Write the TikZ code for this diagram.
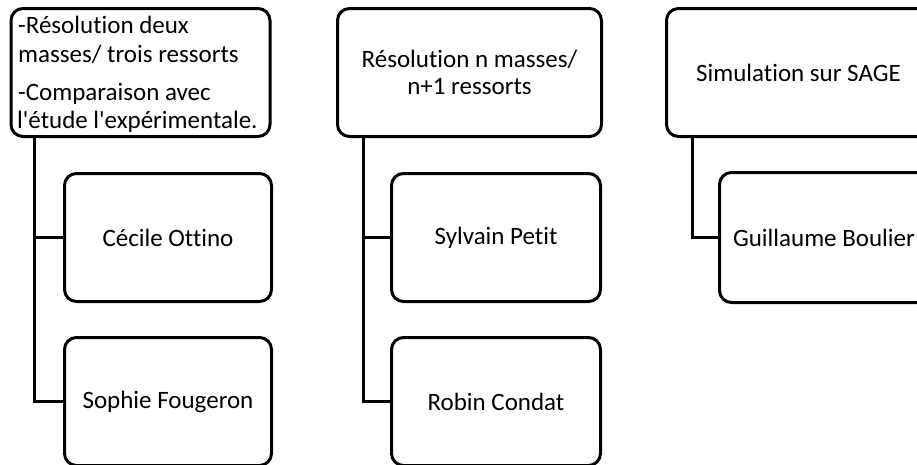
\documentclass[tikz,border=0pt]{standalone}
\usepackage{fontspec}
\setmainfont{Carlito}[Ligatures={NoCommon}]
\usetikzlibrary{calc}
\begin{document}
\begin{tikzpicture}[x=1pt,y=-1pt]
\tikzset{
  box/.style={draw, line width=3pt, rounded corners=12pt, fill=white,
    font=\fontsize{25}{27.5}\selectfont, inner sep=0pt, align=flush center},
  txt/.style={font=\fontsize{25}{27}\selectfont, inner sep=0pt, anchor=base west},
  link/.style={line width=3pt}
}
\useasboundingbox (0,0) rectangle (917,464);
% top boxes
\node[box, minimum width=259pt, minimum height=128pt] (a) at (140.5,72.5) {};
\node[txt] (at1) at (18,33) {-Résolution deux};
\node[txt] (at2) at (18,62) {masses/ trois ressorts};
\node[txt] (at3) at (18,100) {-Comparaison avec};
\node[txt] (at4) at (17,128) {l\textquotesingle étude l\textquotesingle expérimentale.};
\node[box, minimum width=264pt, minimum height=128pt] (b) at (469.5,72.5)
  {Résolution n masses/\\n+1 ressorts};
\node[box, minimum width=264pt, minimum height=128pt] (c) at (798.5,72.5)
  {Simulation sur SAGE};
% children
\node[box, minimum width=207pt, minimum height=128pt] (a1) at (168,237.5) {Cécile Ottino};
\node[box, minimum width=207pt, minimum height=128pt] (a2) at (168,401.5) {Sophie Fougeron};
\node[box, minimum width=209pt, minimum height=128pt] (b1) at (496,237.5) {Sylvain Petit};
\node[box, minimum width=209pt, minimum height=128pt] (b2) at (496,401.5) {Robin Condat};
\node[box, minimum width=209pt, minimum height=130pt] (c1) at (824,237.5) {Guillaume Boulier};
% connectors
\draw[link] ([xshift=25pt]a.south west) |- (a2.west);
\draw[link] ([xshift=25pt]a.south west |- a1.west) -- (a1.west);
\draw[link] ([xshift=27pt]b.south west) |- (b2.west);
\draw[link] ([xshift=27pt]b.south west |- b1.west) -- (b1.west);
\draw[link] ([xshift=27pt]c.south west) |- (c1.west);
\end{tikzpicture}
\end{document}
